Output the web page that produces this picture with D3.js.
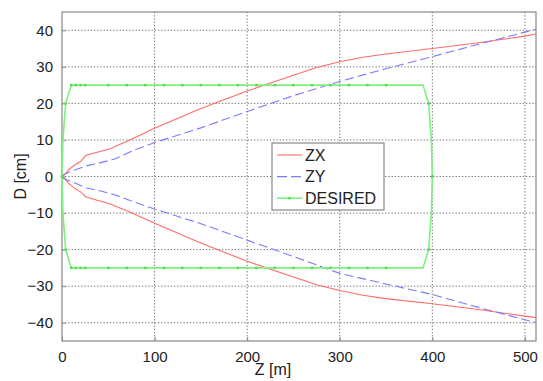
<!DOCTYPE html>
<html>
<head>
<meta charset="utf-8">
<script src="https://cdn.jsdelivr.net/npm/d3@7"></script>
<style>
  body { margin: 0; background: #fff; }
  text { font-family: "Liberation Sans", Arial, sans-serif; fill: #222; }
</style>
</head>
<body>
<svg width="543" height="381"></svg>
<script>
// data
const zxZ = [0, 3, 7, 14, 20, 26, 52, 75, 100, 150, 200, 250, 275, 300, 325, 350, 400, 450, 500, 512];
const zxUp = [0, 0.5, 1.8, 3.2, 4.1, 5.8, 7.6, 10.2, 13.2, 18.6, 23.4, 27.7, 29.8, 31.4, 32.6, 33.5, 35, 36.6, 38.4, 39];
const zxDown = [0, -0.6, -1.8, -3.3, -4.2, -5.6, -7.5, -9.9, -12.8, -18.2, -23.2, -27.5, -29.6, -31.2, -32.5, -33.4, -34.8, -36.4, -38.2, -38.6];

const zyZ = [0, 3, 14, 26, 39, 57, 75, 100, 150, 200, 250, 300, 350, 400, 450, 500, 512];
const zyUp = [0.3, 0.7, 1.8, 2.9, 3.6, 4.8, 6.9, 9.3, 13.3, 17.8, 22.1, 26, 29.5, 32.8, 36.2, 39.5, 40.3];
const zyDown = [-0.3, -0.7, -1.8, -3.1, -3.8, -5, -6.7, -8.9, -12.9, -17.4, -21.9, -26.5, -29.4, -32.3, -35.8, -39.2, -39.9];

const desZ = [0, 1, 4, 10, 15, 20, 25, 50, 70, 90, 110, 130, 150, 170, 190, 210, 230, 250, 270, 290, 310, 330, 350, 390, 396, 399, 400];
const desUp = [0, 10, 20, 25, 25, 25, 25, 25, 25, 25, 25, 25, 25, 25, 25, 25, 25, 25, 25, 25, 25, 25, 25, 25, 20, 10, 0];
const desDown = [0, -10, -20, -25, -25, -25, -25, -25, -25, -25, -25, -25, -25, -25, -25, -25, -25, -25, -25, -25, -25, -25, -25, -25, -20, -10, 0];
const desMarked = [0, 4, 10, 15, 20, 25, 50, 70, 90, 110, 130, 150, 170, 190, 210, 230, 250, 270, 290, 310, 330, 350, 396, 400];

const xTicks = [0, 100, 200, 300, 400, 500];
const yTicks = [-40, -30, -20, -10, 0, 10, 20, 30, 40];
const legendNames = ['ZX', 'ZY', 'DESIRED'];

const svg = d3.select('svg');
const margin = { top: 12, right: 7, bottom: 40, left: 62 };
const width = +svg.attr('width') - margin.left - margin.right;
const height = +svg.attr('height') - margin.top - margin.bottom;

const x = d3.scaleLinear().domain([0, 512]).range([0, width]);
const y = d3.scaleLinear().domain([-45, 45]).range([height, 0]);

const g = svg.append('g')
    .attr('transform', `translate(${margin.left}, ${margin.top})`);

// dotted grid
g.append('g')
    .selectAll('line')
    .data(xTicks.filter(d => d > 0))
    .join('line')
        .attr('x1', d => x(d)).attr('x2', d => x(d))
        .attr('y1', 0).attr('y2', height)
        .attr('stroke', '#666').attr('stroke-dasharray', '1.2,2');

g.append('g')
    .selectAll('line')
    .data(yTicks)
    .join('line')
        .attr('x1', 0).attr('x2', width)
        .attr('y1', d => y(d)).attr('y2', d => y(d))
        .attr('stroke', '#666').attr('stroke-dasharray', '1.2,2');

// axes, ticks pointing inward like matlab
const xAxis = g.append('g')
    .attr('transform', `translate(0, ${height})`)
    .call(d3.axisBottom(x).tickValues(xTicks).tickSizeInner(-4).tickSizeOuter(0).tickPadding(10));
const yAxis = g.append('g')
    .call(d3.axisLeft(y).tickValues(yTicks).tickSizeInner(-4).tickSizeOuter(0).tickPadding(9));

[xAxis, yAxis].forEach(a => {
    a.select('.domain').remove();
    a.selectAll('line').attr('stroke', '#888');
    a.selectAll('text').attr('font-size', 15).attr('fill', '#1a1a1a')
        .attr('font-family', '"Liberation Sans", Arial, sans-serif');
});

// frame
g.append('rect')
    .attr('width', width).attr('height', height)
    .attr('fill', 'none').attr('stroke', '#888').attr('stroke-width', 1.2);

const line = d3.line().x(d => x(d[0])).y(d => y(d[1]));

const red = '#ff6a6a';
const blue = '#7a7aff';
const green = '#7ef07e';
const markColor = '#55dd55';

g.append('path').datum(d3.zip(zxZ, zxUp))
    .attr('d', line).attr('fill', 'none').attr('stroke', red).attr('stroke-width', 1.1);
g.append('path').datum(d3.zip(zxZ, zxDown))
    .attr('d', line).attr('fill', 'none').attr('stroke', red).attr('stroke-width', 1.1);

g.append('path').datum(d3.zip(zyZ, zyUp))
    .attr('d', line).attr('fill', 'none').attr('stroke', blue).attr('stroke-width', 1.1)
    .attr('stroke-dasharray', '9,4');
g.append('path').datum(d3.zip(zyZ, zyDown))
    .attr('d', line).attr('fill', 'none').attr('stroke', blue).attr('stroke-width', 1.1)
    .attr('stroke-dasharray', '9,4');

[desUp, desDown].forEach(vals => {
    const pts = d3.zip(desZ, vals);
    g.append('path').datum(pts)
        .attr('d', line).attr('fill', 'none').attr('stroke', green).attr('stroke-width', 1.6);
    g.append('g')
        .selectAll('rect')
        .data(pts.filter(p => desMarked.includes(p[0])))
        .join('rect')
            .attr('x', d => x(d[0]) - 1.25).attr('y', d => y(d[1]) - 1.25)
            .attr('width', 2.5).attr('height', 2.5)
            .attr('fill', markColor);
});

// axis labels
svg.append('text')
    .attr('x', margin.left + x(228)).attr('y', 375)
    .attr('text-anchor', 'middle').attr('font-size', 16)
    .text('Z [m]');

svg.append('text')
    .attr('transform', `translate(26, ${margin.top + y(0)}) rotate(-90)`)
    .attr('text-anchor', 'middle').attr('font-size', 16)
    .text('D [cm]');

// legend
const legend = svg.append('g').attr('transform', 'translate(272, 143)');
legend.append('rect')
    .attr('width', 112).attr('height', 67)
    .attr('fill', '#fff').attr('stroke', '#888').attr('stroke-width', 1.2);

const legendStyles = [
    { color: red, dash: null },
    { color: blue, dash: '10,4' },
    { color: green, dash: null }
];

legendNames.forEach((name, i) => {
    const row = legend.append('g').attr('transform', `translate(0, ${12 + i * 21.6})`);
    row.append('line')
        .attr('x1', 5).attr('x2', 30)
        .attr('stroke', legendStyles[i].color)
        .attr('stroke-width', i === 2 ? 1.6 : 1.1)
        .attr('stroke-dasharray', legendStyles[i].dash);
    if (i === 2) {
        row.append('rect').attr('x', 16.25).attr('y', -1.25).attr('width', 2.5).attr('height', 2.5)
            .attr('fill', markColor);
    }
    row.append('text')
        .attr('x', 33).attr('y', 5.5)
        .attr('font-size', 16)
        .text(name);
});
</script>
</body>
</html>
